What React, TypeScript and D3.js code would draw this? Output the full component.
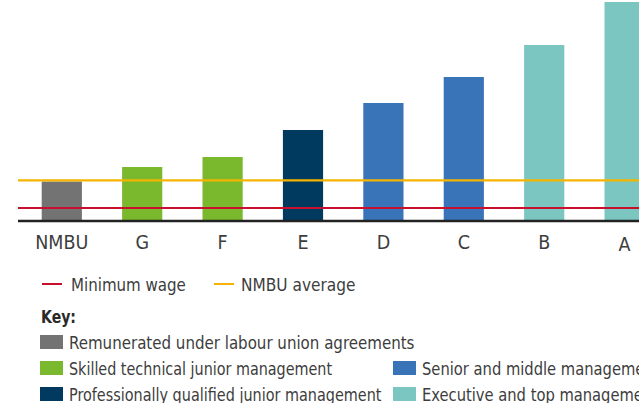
import React from "react";
import * as d3 from "d3";

const categories = ["NMBU", "G", "F", "E", "D", "C", "B", "A"];
const values = [39.5, 54, 64, 91, 118, 144, 176, 219];
const barGroups = ["union", "skilled", "skilled", "prof", "senior", "senior", "exec", "exec"];
const minimumWage = 13;
const nmbuAverage = 40.7;

const groupKeys = ["union", "skilled", "senior", "prof", "exec"];
const groupLabels = [
  "Remunerated under labour union agreements",
  "Skilled technical junior management",
  "Senior and middle management",
  "Professionally qualified junior management",
  "Executive and top management",
];
const groupColors = ["#737373", "#7ab82e", "#3a74b8", "#003a5e", "#7cc6c1"];

const W = 639;
const H = 403;
const FONT = "'Liberation Sans Narrow', 'DejaVu Sans Condensed', 'Roboto', sans-serif";
const TEXT = "#3d3d3d";

// layout: legend position and horizontal squeeze per key
const legendLayout: Record<string, { x: number; y: number; sx: number }> = {
  union: { x: 40, y: 342, sx: 0.905 },
  skilled: { x: 40, y: 368, sx: 0.862 },
  senior: { x: 393, y: 368, sx: 0.885 },
  prof: { x: 40, y: 394, sx: 0.866 },
  exec: { x: 393, y: 394, sx: 0.885 },
};

function NarrowText({ x, y, sx = 0.905, children, ...rest }: any) {
  return (
    <g transform={`translate(${x},${y}) scale(${sx},1)`}>
      <text x={0} y={0} fontFamily={FONT} {...rest}>{children}</text>
    </g>
  );
}

export default function App() {
  const x = d3.scaleBand<string>().domain(categories).range([1.5, 684.9]).paddingInner(0.5).paddingOuter(0.5);
  const y = d3.scaleLinear().domain([0, 220]).range([221, 1]);
  const color = d3.scaleOrdinal<string, string>().domain(groupKeys).range(groupColors);

  return (
    <svg width={W} height={H} style={{ position: "absolute", left: 0, top: 0, background: "#fff" }}>
      {categories.map((c, i) => (
        <rect key={c} x={x(c)} y={y(values[i])} width={x.bandwidth()} height={y(0) - y(values[i])} fill={color(barGroups[i])} />
      ))}
      <line x1={18} x2={W} y1={y(minimumWage)} y2={y(minimumWage)} stroke="#c8102e" strokeWidth={2} />
      <line x1={18} x2={W} y1={y(nmbuAverage)} y2={y(nmbuAverage)} stroke="#f5b400" strokeWidth={2.2} />
      <line x1={18} x2={W} y1={y(0)} y2={y(0)} stroke="#222" strokeWidth={2.4} />
      {categories.map((c) => (
        <text key={c} x={(x(c) as number) + x.bandwidth() / 2} y={c === "A" ? 251 : 249} textAnchor="middle" fontFamily={FONT} fontSize={19.5} fill={TEXT}>
          {c}
        </text>
      ))}
      <line x1={42} x2={62} y1={284} y2={284} stroke="#c8102e" strokeWidth={2} />
      <NarrowText x={71} y={291} sx={0.905} fontSize={18.5} fill={TEXT}>Minimum wage</NarrowText>
      <line x1={214} x2={234} y1={284} y2={284} stroke="#f5b400" strokeWidth={2} />
      <NarrowText x={241} y={291} sx={0.925} fontSize={18.5} fill={TEXT}>NMBU average</NarrowText>
      <NarrowText x={41} y={323} sx={0.87} fontSize={18} fontWeight="bold" fill="#2a2a2a">Key:</NarrowText>
      {groupKeys.map((k, i) => {
        const l = legendLayout[k];
        return (
          <g key={k}>
            <rect x={l.x} y={l.y - 7} width={23} height={14} fill={groupColors[i]} />
            <NarrowText x={l.x + 29} y={l.y + 6.5} sx={l.sx} fontSize={18.5} fill={TEXT}>{groupLabels[i]}</NarrowText>
          </g>
        );
      })}
    </svg>
  );
}
